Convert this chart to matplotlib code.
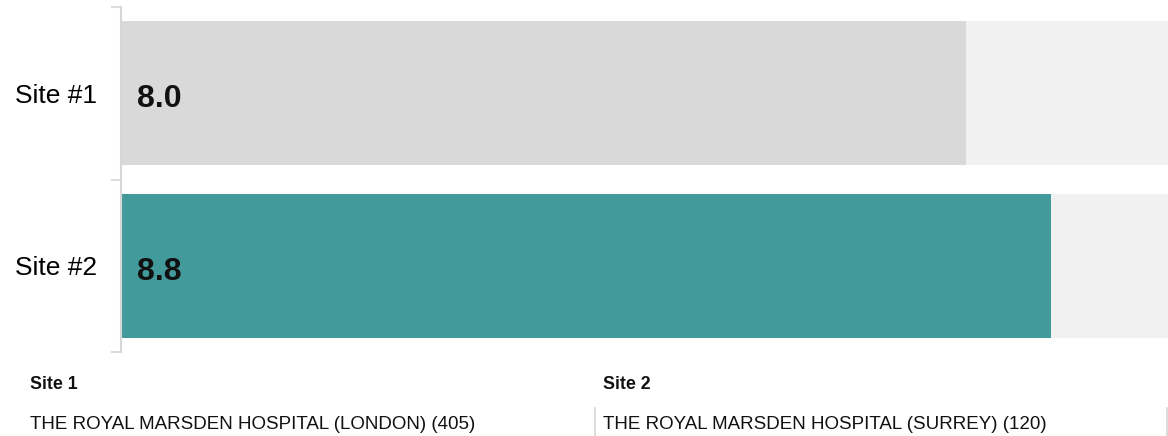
import matplotlib
matplotlib.use("Agg")
import matplotlib.pyplot as plt

# Scores per site
categories = ["Site #1", "Site #2"]
scores = [8.0, 8.8]
score_labels = ["8.0", "8.8"]
max_score = 10.0
site_headers = ["Site 1", "Site 2"]
site_names = ["THE ROYAL MARSDEN HOSPITAL (LONDON) (405)",
              "THE ROYAL MARSDEN HOSPITAL (SURREY) (120)"]

bar_colors = ["#d9d9d9", "#429a9a"]
track_color = "#f1f1f1"
rule_color = "#d6d6d6"

plt.rcParams["font.family"] = ["Liberation Sans", "DejaVu Sans"]

W, H = 1168, 436
fig = plt.figure(figsize=(W / 100, H / 100), dpi=100)

# axes in pixel coordinates: left 121, right 1168, top 7, bottom 352
left, right, top, bottom = 121, 1168, 7, 352
ax = fig.add_axes([left / W, 1 - bottom / H, (right - left) / W, (bottom - top) / H])

ypos = list(range(len(categories)))
ax.barh(ypos, [max_score] * len(categories), height=0.835, color=track_color, left=0)
ax.barh(ypos, scores, height=0.835, color=bar_colors, left=0)

for y, lab in zip(ypos, score_labels):
    ax.text(0.14, y + 0.035, lab, ha="left", va="center", fontsize=23,
            fontweight="bold", color="#111111")

ax.set_xlim(-0.01, 9.91)
ax.set_ylim(len(categories) - 0.5, -0.5)

ax.set_xticks([])
ax.set_yticks([-0.5, 0.5, 1.5])
ax.set_yticklabels([])
ax.set_yticks(ypos, minor=True)
ax.set_yticklabels(categories, minor=True, fontsize=19)
ax.tick_params(axis="y", which="major", length=7, width=1.2, color=rule_color)
ax.tick_params(axis="y", which="minor", length=0, pad=17.5)

for s in ["top", "right", "bottom"]:
    ax.spines[s].set_visible(False)
ax.spines["left"].set_color(rule_color)
ax.spines["left"].set_linewidth(1.5)

# site legend table below the chart
col_x = [30, 603]
for x, hdr, name in zip(col_x, site_headers, site_names):
    fig.text(x / W, 1 - 384 / H, hdr, ha="left", va="center", fontsize=12.8,
             fontweight="bold", color="#111111")
    fig.text(x / W, 1 - 424 / H, name, ha="left", va="center", fontsize=13.5,
             color="#111111")

for x in [594.5, 1166.5]:
    fig.add_artist(plt.Line2D([x / W, x / W], [0, 1 - 408 / H],
                              transform=fig.transFigure, color=rule_color, lw=1.2))

fig.savefig("out.png", dpi=100, facecolor="white")
